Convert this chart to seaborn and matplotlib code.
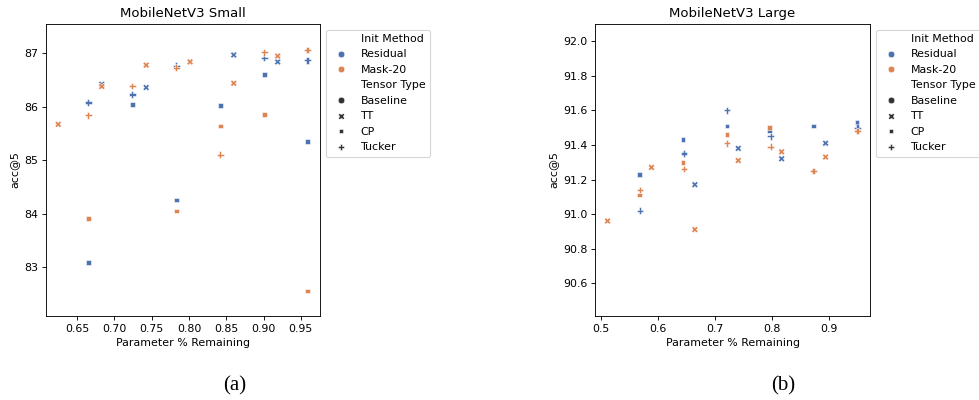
import matplotlib
matplotlib.use("Agg")
import matplotlib.pyplot as plt
import seaborn as sns
import pandas as pd

# ---- MobileNetV3 Small ----
small_param = [0.683, 0.7425, 0.860, 0.919,
               0.665, 0.724, 0.783, 0.842, 0.901, 0.959,
               0.665, 0.724, 0.783, 0.901, 0.959,
               0.6245, 0.683, 0.7425, 0.8014, 0.860, 0.919,
               0.665, 0.783, 0.842, 0.901, 0.959,
               0.665, 0.724, 0.783, 0.842, 0.901, 0.959]
small_acc = [86.42, 86.36, 86.97, 86.84,
             83.08, 86.04, 84.25, 86.02, 86.61, 85.35,
             86.08, 86.23, 86.77, 86.91, 86.87,
             85.67, 86.38, 86.78, 86.84, 86.44, 86.95,
             83.91, 84.05, 85.64, 85.85, 82.55,
             85.84, 86.39, 86.73, 85.10, 87.02, 87.06]
small_init = ["Residual"] * 15 + ["Mask-20"] * 17
small_type = (["TT"] * 4 + ["CP"] * 6 + ["Tucker"] * 5
              + ["TT"] * 6 + ["CP"] * 5 + ["Tucker"] * 6)

# ---- MobileNetV3 Large ----
large_param = [0.665, 0.741, 0.817, 0.894,
               0.568, 0.644, 0.7215, 0.796, 0.873, 0.949,
               0.569, 0.646, 0.7215, 0.798, 0.950,
               0.512, 0.589, 0.665, 0.741, 0.817, 0.894,
               0.568, 0.644, 0.7215, 0.796,
               0.569, 0.646, 0.7215, 0.798, 0.873, 0.950]
large_acc = [91.17, 91.38, 91.32, 91.41,
             91.23, 91.43, 91.51, 91.48, 91.51, 91.53,
             91.02, 91.35, 91.60, 91.45, 91.50,
             90.96, 91.27, 90.91, 91.31, 91.36, 91.33,
             91.11, 91.30, 91.46, 91.50,
             91.14, 91.26, 91.41, 91.39, 91.25, 91.48]
large_init = ["Residual"] * 15 + ["Mask-20"] * 16
large_type = (["TT"] * 4 + ["CP"] * 6 + ["Tucker"] * 5
              + ["TT"] * 6 + ["CP"] * 4 + ["Tucker"] * 6)

init_order = ["Residual", "Mask-20"]
type_order = ["Baseline", "TT", "CP", "Tucker"]

small_df = pd.DataFrame({"Parameter % Remaining": small_param, "acc@5": small_acc,
                         "Init Method": small_init, "Tensor Type": small_type})
large_df = pd.DataFrame({"Parameter % Remaining": large_param, "acc@5": large_acc,
                         "Init Method": large_init, "Tensor Type": large_type})

plt.rcParams["font.family"] = ["DejaVu Sans"]
DPI = 79.2
fig = plt.figure(figsize=(979 / DPI, 400 / DPI), dpi=DPI)
ax1 = fig.add_axes([0.0467, 0.21, 0.2802, 0.73])
ax2 = fig.add_axes([0.6078, 0.21, 0.2809, 0.73])

palette = sns.color_palette("deep")[:2]

for ax, df, title, ylim in [(ax1, small_df, "MobileNetV3 Small", (82.08, 87.55)),
                            (ax2, large_df, "MobileNetV3 Large", (90.41, 92.10))]:
    sns.scatterplot(data=df, x="Parameter % Remaining", y="acc@5",
                    hue="Init Method", hue_order=init_order,
                    style="Tensor Type", style_order=type_order,
                    palette=palette, ax=ax)
    ax.set_title(title)
    ax.set_ylim(*ylim)
    ax.legend(loc="upper left", bbox_to_anchor=(1.0, 1.0))

ax2.set_yticks([90.6, 90.8, 91.0, 91.2, 91.4, 91.6, 91.8, 92.0])

fig.text(0.240, 0.035, "(a)", ha="center", va="center",
         family=["Liberation Serif"], fontsize=19)
fig.text(0.800, 0.035, "(b)", ha="center", va="center",
         family=["Liberation Serif"], fontsize=19)

fig.savefig("out.png", dpi=DPI)
